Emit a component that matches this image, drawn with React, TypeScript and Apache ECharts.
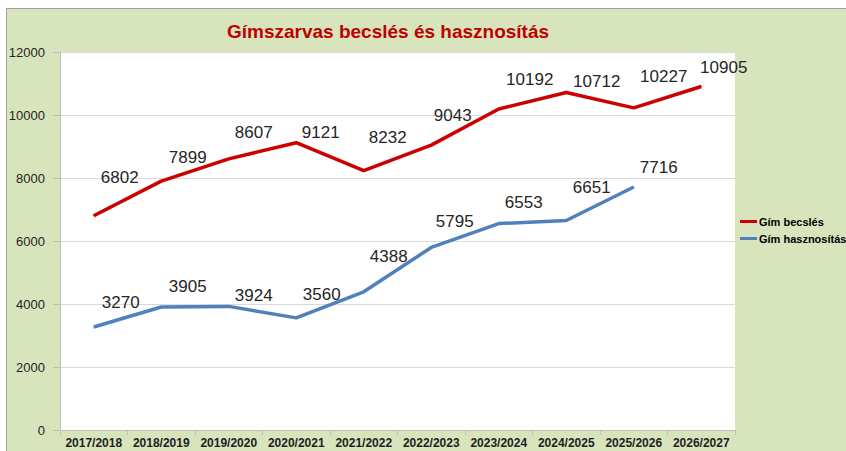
import React, { useEffect, useRef } from 'react';
import * as echarts from 'echarts';

const categories = ['2017/2018', '2018/2019', '2019/2020', '2020/2021', '2021/2022', '2022/2023', '2023/2024', '2024/2025', '2025/2026', '2026/2027'];
const becsles = [6802, 7899, 8607, 9121, 8232, 9043, 10192, 10712, 10227, 10905];
const hasznositas: (number | null)[] = [3270, 3905, 3924, 3560, 4388, 5795, 6553, 6651, 7716, null];
const seriesNames = ['Gím becslés', 'Gím hasznosítás'];
const titleText = 'Gímszarvas becslés és hasznosítás';

// label placement (manual, as in the original)
const becslesLabelOffsets = [[26, -38], [26.5, -24], [25, -26], [24.5, -10], [24, -33], [21.5, -30], [31, -29], [30.5, -11], [30, -31], [22.5, -19]];
const hasznLabelOffsets = [[27, -24], [26.5, -20], [25, -11], [25.5, -23], [25, -35], [23.5, -25.5], [25, -20.6], [25.5, -32.5], [25, -19], [0, 0]];

const FONT = '"Liberation Sans", Arial, sans-serif';

export default function App() {
  const ref = useRef<HTMLDivElement>(null);
  useEffect(() => {
    if (!ref.current) return;
    const chart = echarts.init(ref.current, undefined, { renderer: 'svg' });
    const mk = (vals: (number | null)[], offs: number[][]) =>
      vals.map((v, i) => (v == null ? '-' : { value: v, label: { offset: offs[i] } }));
    chart.setOption({
      animation: false,
      backgroundColor: 'transparent',
      title: {
        text: titleText,
        left: 388,
        top: 22,
        textAlign: 'center',
        padding: 0,
        textStyle: { color: '#c00000', fontSize: 19, fontWeight: 'bold', fontFamily: FONT },
      },
      legend: {
        orient: 'vertical',
        left: 740,
        top: 216,
        icon: 'rect',
        itemWidth: 17,
        itemHeight: 3,
        itemGap: 6,
        padding: 0,
        data: seriesNames,
        textStyle: { fontSize: 11, fontWeight: 'bold', color: '#000', fontFamily: FONT, padding: [0, 0, 0, -3] },
      },
      grid: {
        left: 60,
        right: 111,
        top: 52,
        bottom: 21,
        show: true,
        backgroundColor: '#ffffff',
        borderWidth: 0,
      },
      xAxis: {
        type: 'category',
        data: categories,
        boundaryGap: true,
        axisLine: { show: true, lineStyle: { color: '#bfbfbf', width: 1 } },
        axisTick: { show: true, length: 5, lineStyle: { color: '#bfbfbf' } },
        axisLabel: { interval: 0, margin: 7, fontSize: 12, fontWeight: 'bold', color: '#1f1f1f', fontFamily: FONT },
        splitLine: { show: false },
      },
      yAxis: {
        type: 'value',
        min: 0,
        max: 12000,
        interval: 2000,
        axisLine: { show: true, lineStyle: { color: '#bfbfbf', width: 1 } },
        axisTick: { show: true, inside: false, length: 7, lineStyle: { color: '#bfbfbf' } },
        axisLabel: { margin: 15, fontSize: 13, color: '#1f1f1f', fontFamily: FONT, formatter: (v: number) => String(v) },
        splitLine: { show: true, lineStyle: { color: '#d9d9d9', width: 1.2 } },
      },
      series: [
        {
          name: seriesNames[0],
          type: 'line',
          data: mk(becsles, becslesLabelOffsets),
          symbol: 'circle',
          symbolSize: 1,
          showSymbol: true,
          lineStyle: { color: '#cc0000', width: 3.5 },
          itemStyle: { color: '#cc0000' },
          label: { show: true, position: 'inside', fontSize: 17, color: '#262626', fontFamily: FONT },
        },
        {
          name: seriesNames[1],
          type: 'line',
          data: mk(hasznositas, hasznLabelOffsets),
          symbol: 'circle',
          symbolSize: 1,
          showSymbol: true,
          lineStyle: { color: '#4f81bd', width: 3.5 },
          itemStyle: { color: '#4f81bd' },
          label: { show: true, position: 'inside', fontSize: 17, color: '#262626', fontFamily: FONT },
        },
      ],
    });
    return () => chart.dispose();
  }, []);
  return (
    <div style={{ position: 'absolute', left: 0, top: 0, width: 846, height: 451, background: '#ffffff', overflow: 'hidden' }}>
      <div
        style={{
          position: 'absolute',
          left: 6,
          top: 8,
          right: 0,
          bottom: 0,
          background: '#d8e4bc',
          borderTop: '1.5px solid #a0a0a0',
          borderLeft: '1.5px solid #a0a0a0',
        }}
      />
      <div ref={ref} style={{ position: 'absolute', left: 0, top: 0, width: 846, height: 451 }} />
    </div>
  );
}
